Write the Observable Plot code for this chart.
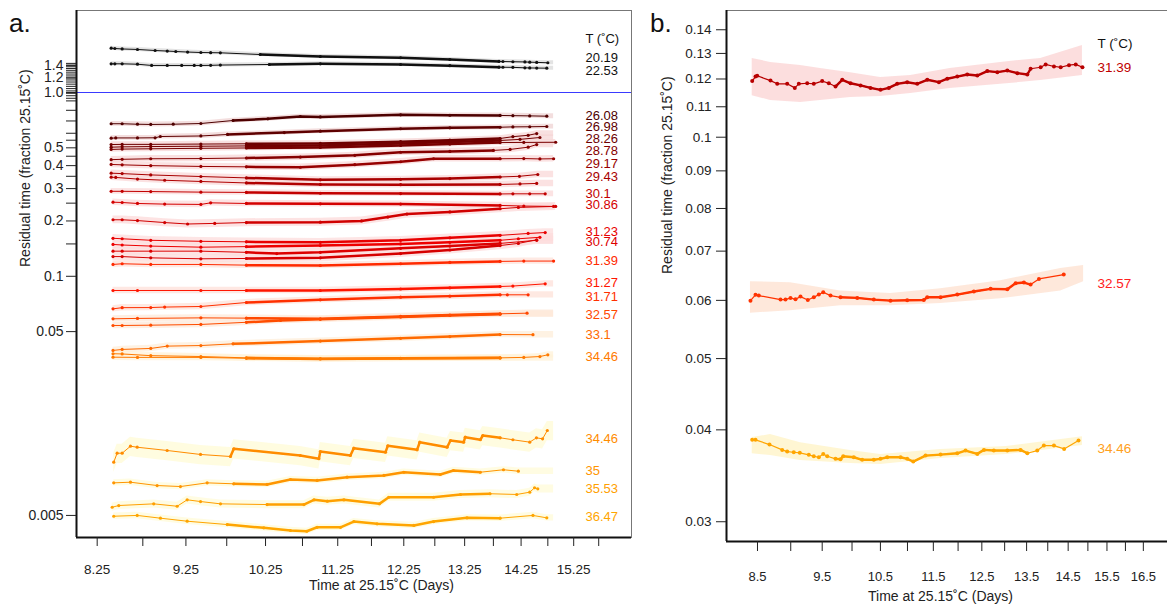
<!DOCTYPE html>
<html><head><meta charset="utf-8">
<script src="https://cdn.jsdelivr.net/npm/d3@7"></script>
<script src="https://cdn.jsdelivr.net/npm/@observablehq/plot@0.6"></script>
<style>
body{margin:0;background:#fff;font-family:"Liberation Sans",Arial,Helvetica,sans-serif;}
#wrap{position:relative;width:1167px;height:609px;display:flex;overflow:hidden;}
.tag{position:absolute;font-size:26px;line-height:26px;color:#111;z-index:2;}
svg{display:block;}
</style></head><body>
<div id="wrap"><div class="tag" style="left:9px;top:10px">a.</div><div class="tag" style="left:650px;top:10px">b.</div></div>
<script>
// ---------- Panel a : series (day, residual time fraction) ----------
const a01 = [[8.40,1.742],[8.44,1.735],[8.52,1.725],[8.69,1.714],[8.89,1.692],[9.03,1.68],[9.13,1.671],[9.27,1.66],[9.43,1.650],[9.55,1.647],[9.67,1.644],[10.18,1.609],[11.0,1.570],[12.2,1.545],[13.0,1.512],[13.85,1.475],[13.92,1.474],[14.1,1.47],[14.32,1.466],[14.41,1.462],[14.54,1.458],[14.75,1.451]];
const a02 = [[8.40,1.432],[8.44,1.432],[8.52,1.432],[8.69,1.425],[8.85,1.403],[9.03,1.403],[9.2,1.403],[9.35,1.403],[9.43,1.403],[9.55,1.405],[9.67,1.41],[10.3,1.42],[11.0,1.432],[12.2,1.42],[13.0,1.40],[13.85,1.373],[13.92,1.372],[14.1,1.37],[14.32,1.362],[14.41,1.360],[14.54,1.358],[14.73,1.356]];
const a03 = [[8.40,0.676],[8.52,0.676],[8.69,0.672],[8.84,0.670],[9.1,0.672],[9.43,0.678],[9.83,0.704],[10.28,0.719],[10.72,0.740],[11.0,0.736],[12.2,0.756],[13.0,0.752],[13.87,0.750],[14.1,0.748],[14.41,0.746],[14.73,0.743]];
const a04 = [[8.40,0.564],[8.45,0.566],[8.69,0.566],[8.89,0.567],[8.95,0.576],[9.43,0.580],[9.76,0.591],[10.5,0.605],[11.0,0.616],[12.2,0.635],[13.0,0.642],[13.87,0.647],[14.1,0.650],[14.41,0.651],[14.73,0.653]];
const a05 = [[8.40,0.521],[8.52,0.522],[8.84,0.522],[9.43,0.524],[10.0,0.526],[11.0,0.528],[12.2,0.540],[13.0,0.550],[13.87,0.562],[14.1,0.575],[14.38,0.585],[14.54,0.598]];
const a06 = [[8.40,0.504],[8.52,0.506],[8.84,0.508],[9.43,0.510],[10.0,0.512],[11.0,0.515],[12.2,0.528],[13.0,0.538],[13.87,0.548],[14.23,0.556],[14.6,0.569]];
const a07 = [[8.40,0.490],[8.52,0.492],[8.84,0.494],[9.43,0.497],[10.0,0.499],[11.0,0.502],[12.2,0.515],[13.0,0.524],[13.87,0.534],[14.3,0.535],[14.9,0.536]];
const a08 = [[8.40,0.431],[8.52,0.433],[8.84,0.436],[9.43,0.437],[10.0,0.440],[10.72,0.445],[11.5,0.455],[12.2,0.473],[13.0,0.478],[13.75,0.484],[14.05,0.490],[14.38,0.504],[14.54,0.521]];
const a09 = [[8.40,0.406],[8.52,0.404],[8.84,0.400],[9.43,0.396],[10.0,0.394],[10.72,0.392],[11.5,0.405],[12.2,0.420],[12.73,0.436],[13.87,0.436],[14.3,0.437],[14.6,0.435],[14.86,0.436]];
const a10 = [[8.40,0.364],[8.52,0.362],[8.84,0.356],[9.43,0.349],[10.0,0.343],[11.0,0.335],[12.2,0.337],[13.0,0.340],[13.87,0.347],[14.22,0.350],[14.56,0.358]];
const a11 = [[8.40,0.346],[8.45,0.345],[8.69,0.338],[9.0,0.333],[9.43,0.328],[10.0,0.322],[11.0,0.316],[12.2,0.315],[13.87,0.316],[14.23,0.318],[14.54,0.320]];
const a12 = [[8.40,0.290],[8.52,0.290],[8.84,0.289],[9.43,0.287],[10.0,0.286],[11.0,0.283],[12.2,0.282],[13.87,0.2805],[14.10,0.281],[14.41,0.281],[14.70,0.281]];
const a13 = [[8.42,0.253],[8.52,0.252],[8.69,0.249],[9.0,0.247],[9.43,0.246],[9.55,0.251],[10.0,0.249],[11.0,0.248],[12.2,0.247],[13.87,0.243],[14.3,0.241],[14.86,0.240]];
const a14 = [[8.42,0.203],[8.52,0.203],[8.69,0.201],[9.0,0.196],[9.27,0.1925],[9.6,0.194],[10.0,0.196],[11.0,0.197],[11.6,0.200],[12.0,0.210],[12.3,0.218],[13.0,0.224],[13.87,0.233],[14.2,0.237],[14.9,0.240]];
const a15 = [[8.42,0.161],[8.52,0.160],[8.84,0.157],[9.43,0.155],[10.0,0.154],[11.0,0.153],[12.2,0.157],[13.0,0.162],[13.87,0.167],[14.38,0.171],[14.7,0.173]];
const a16 = [[8.42,0.149],[8.52,0.148],[8.84,0.146],[9.43,0.144],[10.0,0.145],[11.0,0.147],[12.2,0.150],[13.0,0.153],[13.87,0.157],[14.2,0.160],[14.6,0.163]];
const a17 = [[8.42,0.137],[8.52,0.137],[8.84,0.137],[9.43,0.137],[10.0,0.135],[10.4,0.133],[11.0,0.135],[12.2,0.142],[13.0,0.146],[13.87,0.151],[14.54,0.157]];
const a18 = [[8.42,0.128],[8.52,0.128],[8.84,0.126],[9.43,0.1245],[10.0,0.125],[11.0,0.126],[12.2,0.133],[13.0,0.139],[13.87,0.147],[14.2,0.151],[14.54,0.158]];
const a19 = [[8.42,0.116],[8.52,0.117],[8.84,0.116],[9.43,0.116],[10.0,0.115],[11.0,0.1145],[12.2,0.117],[13.0,0.119],[13.87,0.1205],[14.3,0.121],[14.86,0.121]];
const a20 = [[8.42,0.0837],[8.69,0.0837],[9.43,0.0837],[10.0,0.0837],[11.0,0.0837],[12.2,0.0853],[13.0,0.0866],[13.87,0.0880],[14.1,0.0885],[14.7,0.0910]];
const a21 = [[8.42,0.0665],[8.52,0.0675],[8.84,0.0676],[9.0,0.068],[9.43,0.0685],[10.0,0.072],[11.0,0.0745],[12.2,0.077],[13.0,0.078],[13.87,0.0793],[14.0,0.0793],[14.38,0.0793]];
const a22 = [[8.42,0.0587],[8.69,0.0590],[9.43,0.0594],[10.0,0.0592],[11.0,0.0587],[12.2,0.0605],[13.0,0.0615],[13.87,0.0625],[14.36,0.0630]];
const a23 = [[8.42,0.054],[8.52,0.054],[8.84,0.0542],[9.43,0.0547],[10.0,0.0562],[10.45,0.0575],[11.0,0.0583],[12.2,0.0600],[13.0,0.0612],[13.87,0.0622]];
const a24 = [[8.42,0.0395],[8.52,0.040],[8.84,0.0405],[9.03,0.0417],[9.43,0.042],[9.83,0.0429],[11.0,0.0444],[12.2,0.046],[13.0,0.047],[13.87,0.0482],[14.47,0.0481]];
const a25 = [[8.42,0.0379],[8.52,0.0378],[8.84,0.037],[9.43,0.0366],[10.0,0.036],[11.0,0.0356],[12.2,0.0358],[13.87,0.0360],[14.3,0.0362],[14.6,0.0366],[14.75,0.0374]];
const a26 = [[8.42,0.0363],[8.69,0.0362],[9.43,0.0362],[10.0,0.0358],[11.0,0.0355],[12.2,0.0357],[13.87,0.0359]];
const a27 = [[8.428,0.00974],[8.465,0.0109],[8.52,0.0109],[8.612,0.0119],[8.687,0.01175],[9.029,0.01128],[9.426,0.01073],[9.797,0.01046],[9.839,0.01152],[10.72,0.01059],[10.98,0.01017],[11.0,0.01114],[11.435,0.01059],[11.485,0.01161],[11.965,0.01104],[12.0,0.01196],[12.462,0.01138],[12.505,0.01252],[12.954,0.01175],[13.01,0.01278],[13.233,0.01252],[13.26,0.01332],[13.52,0.0129],[13.564,0.01361],[13.87,0.01322],[14.10,0.0129],[14.41,0.01252],[14.535,0.01322],[14.65,0.01305],[14.74,0.01449]];
const a28 = [[8.428,0.00752],[8.612,0.00758],[8.913,0.00727],[9.185,0.00718],[9.507,0.00752],[9.839,0.00743],[10.27,0.00737],[10.585,0.00784],[10.955,0.00775],[11.387,0.00807],[11.94,0.00825],[12.25,0.00859],[12.84,0.00835],[13.06,0.00878],[13.52,0.00859],[13.93,0.00886],[14.20,0.0087]];
const a29 = [[8.411,0.00554],[8.483,0.00566],[8.874,0.00578],[9.146,0.00561],[9.265,0.00608],[9.426,0.00595],[9.672,0.00578],[10.27,0.00573],[10.77,0.00573],[10.91,0.00608],[11.10,0.00598],[11.34,0.00608],[11.87,0.00578],[12.015,0.00628],[12.73,0.00628],[13.18,0.0065],[13.69,0.00656],[14.17,0.0065],[14.41,0.00669],[14.50,0.00707],[14.56,0.00698]];
const a30 = [[8.428,0.00495],[8.687,0.005],[8.951,0.00483],[9.265,0.00465],[9.756,0.00446],[10.227,0.00428],[10.585,0.00414],[10.81,0.0041],[10.955,0.00431],[11.29,0.00431],[11.485,0.00463],[11.836,0.0045],[12.41,0.00441],[12.73,0.00463],[13.29,0.00485],[13.87,0.00483],[14.47,0.005],[14.73,0.00485]];

const ptsA = [a01,a02,a03,a04,a05,a06,a07,a08,a09,a10,a11,a12,a13,a14,a15,a16,a17,a18,a19,a20,a21,a22,a23,a24,a25,a26,a27,a28,a29,a30];
const tempsA = ["20.19","22.53","26.08","26.98","28.26","28.26","28.26","28.78","29.17","29.43","29.43","30.1","30.86","30.86","31.23","31.23","30.74","30.74","31.39","31.27","31.71","32.57","32.57","33.1","34.46","34.46","34.46","35","35.53","36.47"];
const colorsA = ["#111111","#111111","#4d0000","#5e0000","#6e0000","#730000","#780000","#850000","#960000","#a80000","#b00000","#c20000","#d40000","#d00000","#e80000","#ee0000","#dd0000","#d50000","#ff2a00","#ff1500","#ff3000","#ff4800","#ff4d00","#ff6a00","#ff7a00","#ff7a00","#ff8c00","#ff9500","#ffa000","#ffa500"];
const bandColorsA = ["#d9d9d9","#d9d9d9","#efd3d3","#efd3d3","#f5d5d5","#f5d5d5","#f5d5d5","#f7d6d6","#f9d8d8","#fad8d8","#fad8d8","#fbd9d9","#fcdada","#fcdada","#fcdcdc","#fcdcdc","#fcdcdc","#fcdcdc","#fde2da","#fde0da","#fde2d8","#fde8d8","#fde8d8","#feeeda","#fff2d8","#fff2d8","#fffbd6","#fffbd8","#fffbd8","#fffbd8"];
const bandWA = [0.025,0.025,0.03,0.03,0.035,0.035,0.035,0.04,0.04,0.04,0.04,0.035,0.04,0.05,0.05,0.05,0.05,0.05,0.04,0.04,0.04,0.04,0.04,0.04,0.04,0.04,0.12,0.04,0.05,0.04];
const bandEndA = 14.86;
const denseA = [9.7, 13.87];

const labelTextA = ["T (˚C)","20.19","22.53","26.08","26.98","28.26","28.78","29.17","29.43","30.1","30.86","31.23","30.74","31.39","31.27","31.71","32.57","33.1","34.46","34.46","35","35.53","36.47"];
const labelValA = [1.967,1.545,1.317,0.750,0.647,0.560,0.484,0.409,0.346,0.281,0.246,0.1753,0.1532,0.1219,0.0917,0.0777,0.0617,0.0482,0.0366,0.01305,0.00878,0.00698,0.00493];
const labelColorA = ["#111111","#111111","#111111","#4d0000","#5e0000","#6e0000","#850000","#960000","#a80000","#c20000","#d40000","#e80000","#dd0000","#ff2a00","#ff1500","#ff3000","#ff4800","#ff6a00","#ff7a00","#ff8c00","#ff9500","#ffa000","#ffa500"];

const yTicksA = [0.005,0.05,0.1,0.2,0.3,0.4,0.5,0.6,0.8,1.0,1.2,1.4];
const yTickLabelsA = ["0.005","0.05","0.1","0.2","0.3","0.4","0.5","0.6","0.8","1.0","1.2","1.4"];
const yMinorA = [0.15,0.25,0.35,0.45,0.55,0.7,0.90,0.93,0.96,0.99,1.02,1.05,1.08,1.11,1.14,1.17,1.20,1.23,1.26,1.29,1.32,1.35,1.38,1.41,1.44];
const xTicksA = [8.25,8.75,9.25,9.75,10.25,10.75,11.25,11.75,12.25,12.75,13.25,13.75,14.25,14.75,15.25,15.75];
const xTickLabelsA = ["8.25","","9.25","","10.25","","11.25","","12.25","","13.25","","14.25","","15.25",""];
const xDomA = [8.033, 16.43], yDomA = [0.003792, 2.793];

// ---------- Panel b ----------
const b1 = [[8.423,0.1192],[8.471,0.1209],[8.496,0.1212],[8.692,0.1194],[8.793,0.1182],[8.945,0.1182],[9.063,0.1167],[9.126,0.1182],[9.258,0.1184],[9.364,0.1182],[9.500,0.1192],[9.609,0.1184],[9.720,0.1172],[9.833,0.1197],[9.974,0.1184],[10.147,0.1176],[10.323,0.1167],[10.502,0.1160],[10.653,0.1167],[10.807,0.1182],[10.995,0.1188],[11.186,0.1182],[11.380,0.1197],[11.610,0.1188],[11.779,0.1201],[11.983,0.1209],[12.191,0.1217],[12.403,0.1213],[12.618,0.1230],[12.837,0.1226],[13.06,0.1232],[13.286,0.1222],[13.517,0.1217],[13.594,0.1239],[13.83,0.1245],[13.95,0.1256],[14.15,0.1248],[14.315,0.1245],[14.52,0.1253],[14.69,0.1256],[14.86,0.1245]];
const b2 = [[8.398,0.05995],[8.471,0.06104],[8.519,0.0609],[8.843,0.06014],[8.919,0.06014],[8.996,0.06046],[9.074,0.0602],[9.152,0.06071],[9.268,0.06008],[9.364,0.06058],[9.445,0.06109],[9.517,0.06154],[9.637,0.0609],[9.804,0.06058],[10.09,0.06046],[10.382,0.06014],[10.684,0.05995],[10.995,0.06001],[11.314,0.06008],[11.38,0.06058],[11.644,0.06058],[11.983,0.06109],[12.33,0.06168],[12.69,0.0622],[13.06,0.06212],[13.247,0.06331],[13.438,0.06344],[13.594,0.06305],[13.79,0.06417],[14.39,0.06505]];
const b3 = [[8.423,0.03877],[8.471,0.03877],[8.677,0.0382],[8.869,0.03757],[8.945,0.03737],[9.047,0.03729],[9.141,0.03722],[9.284,0.03699],[9.364,0.03683],[9.445,0.03671],[9.517,0.0371],[9.583,0.03683],[9.72,0.03653],[9.804,0.03648],[9.85,0.03683],[10.03,0.03671],[10.176,0.03642],[10.382,0.03642],[10.502,0.03653],[10.624,0.03671],[10.87,0.03671],[10.995,0.03653],[11.11,0.03622],[11.347,0.0369],[11.644,0.03702],[11.983,0.03717],[12.155,0.03749],[12.403,0.0371],[12.545,0.03757],[12.76,0.03749],[13.06,0.03749],[13.36,0.03757],[13.517,0.03717],[13.75,0.03749],[13.907,0.03808],[14.15,0.03808],[14.40,0.03768],[14.76,0.03868]];
const bb1 = [[8.423,0.1139,0.1280],[8.692,0.1122,0.1264],[9.152,0.1115,0.1252],[9.472,0.1122,0.1240],[9.974,0.1132,0.1224],[10.502,0.1136,0.1206],[11.06,0.1147,0.1213],[11.836,0.1165,0.1240],[12.91,0.1180,0.1264],[13.83,0.1194,0.1280],[14.86,0.1213,0.1333]];
const bb2 = [[8.398,0.05763,0.0636],[8.996,0.0581,0.0634],[9.804,0.0590,0.0618],[10.684,0.0590,0.0613],[11.644,0.0594,0.0622],[12.91,0.0603,0.0638],[14.315,0.0618,0.0663],[14.89,0.0636,0.0669]];
const bb3 = [[8.423,0.03713,0.03904],[8.692,0.0369,0.03941],[9.152,0.03633,0.03843],[9.974,0.03599,0.03749],[10.502,0.03588,0.03702],[11.644,0.03657,0.03761],[13.04,0.03702,0.03797],[14.86,0.03808,0.03916]];
const ptsB = [b1,b2,b3];
const bandsB = [bb1,bb2,bb3];
const tempsB = ["31.39","32.57","34.46"];
const colorsB = ["#b80000","#ff3300","#ffa500"];
const bandColorsB = ["#fbd3d3","#fde0cf","#fff3c4"];
const labelTextB = ["T (˚C)","31.39","32.57","34.46"];
const labelValB = [0.1340,0.1245,0.0633,0.03776];
const labelColorB = ["#111111","#c00000","#ff2020","#ffa020"];
const denseB = [9.7, 13.6];
const yTicksB = [0.03,0.04,0.05,0.06,0.07,0.08,0.09,0.1,0.11,0.12,0.13,0.14];
const yTickLabelsB = ["0.03","0.04","0.05","0.06","0.07","0.08","0.09","0.1","0.11","0.12","0.13","0.14"];
const xTicksB = [8.5,9,9.5,10,10.5,11,11.5,12,12.5,13,13.5,14,14.5,15,15.5,16,16.5];
const xTickLabelsB = ["8.5","","9.5","","10.5","","11.5","","12.5","","13.5","","14.5","","15.5","","16.5"];
const xDomB = [8.059, 17.20], yDomB = [0.02820, 0.1487];

const yTitle = "Residual time (fraction 25.15˚C)";
const xTitle = "Time at 25.15˚C (Days)";

// ---------- build ----------
const font = '"Liberation Sans", Arial, Helvetica, sans-serif';
const style = {fontFamily: font, fontSize: "14px", color: "#222", background: "transparent", overflow: "visible"};

const rowsA = [];
ptsA.forEach((pts, k) => pts.forEach(([d, v]) => rowsA.push({d, v, k, c: colorsA[k]})));
const bandRowsA = [];
ptsA.forEach((pts, k) => {
  const w = bandWA[k];
  const ext = pts.slice();
  const last = pts[pts.length - 1];
  if (last[0] < bandEndA) ext.push([bandEndA, last[1]]);
  ext.forEach(([d, v]) => bandRowsA.push({d, lo: v * (1 - w), hi: v * (1 + w), k, c: bandColorsA[k]}));
});
const idxA = labelTextA.map((_, i) => i);
const xLabA = xTicksA.filter((d, i) => xTickLabelsA[i] !== "");

const plotA = Plot.plot({
  width: 640, height: 609, marginLeft: 76, marginRight: 9, marginTop: 10, marginBottom: 72,
  x: {type: "log", domain: xDomA, label: null},
  y: {type: "log", domain: yDomA, label: null},
  color: {type: "identity"},
  style,
  marks: [
    Plot.areaY(bandRowsA, {x: "d", y1: "lo", y2: "hi", z: "k", fill: "c", fillOpacity: 0.75}),
    Plot.frame({stroke: "#777"}),
    Plot.ruleY([1], {stroke: "#3a3aff", strokeWidth: 1.2}),
    Plot.line(rowsA, {x: "d", y: "v", z: "k", stroke: "c", strokeWidth: 1}),
    Plot.line(rowsA.filter(r => r.d >= denseA[0] && r.d <= denseA[1]), {x: "d", y: "v", z: "k", stroke: "c", strokeWidth: 2.5}),
    Plot.dot(rowsA, {x: "d", y: "v", fill: "c", r: 1.6}),
    Plot.ruleX([xDomA[0]], {stroke: "#111", strokeWidth: 2}),
    Plot.ruleY([yDomA[0]], {stroke: "#111", strokeWidth: 2}),
    Plot.text(idxA, {y: i => labelValA[i], text: i => labelTextA[i], fill: i => labelColorA[i], frameAnchor: "right", dx: -46, textAnchor: "start", fontSize: 13}),
    Plot.axisY(yTicksA, {tickSize: 10, tickPadding: 3, label: null, fontSize: 14, tickFormat: d => yTickLabelsA[yTicksA.indexOf(d)]}),
    Plot.axisY(yMinorA, {tickSize: 10, label: null, tickFormat: () => ""}),
    Plot.axisX(xTicksA, {tickSize: 9, label: null, tickFormat: () => ""}),
    Plot.text(xLabA, {x: d => d, text: d => xTickLabelsA[xTicksA.indexOf(d)], frameAnchor: "bottom", lineAnchor: "top", dy: 27, fontSize: 13.5, fill: "#222"}),
    Plot.text([yTitle], {text: d => d, frameAnchor: "left", rotate: -90, dx: -50.5, dy: -7, fontSize: 14, fill: "#222"}),
    Plot.text([xTitle], {text: d => d, frameAnchor: "bottom", dx: 27.5, dy: 52, fontSize: 14, fill: "#222"})
  ]
});

const rowsB = [];
ptsB.forEach((pts, k) => pts.forEach(([d, v]) => rowsB.push({d, v, k, c: colorsB[k]})));
const bandRowsB = [];
bandsB.forEach((b, k) => b.forEach(([d, lo, hi]) => bandRowsB.push({d, lo, hi, k, c: bandColorsB[k]})));
const idxB = labelTextB.map((_, i) => i);
const xLabB = xTicksB.filter((d, i) => xTickLabelsB[i] !== "");

const plotB = Plot.plot({
  width: 527, height: 609, marginLeft: 86, marginRight: 0, marginTop: 10, marginBottom: 68,
  x: {type: "log", domain: xDomB, label: null},
  y: {type: "log", domain: yDomB, label: null},
  color: {type: "identity"},
  style,
  marks: [
    Plot.areaY(bandRowsB, {x: "d", y1: "lo", y2: "hi", z: "k", fill: "c", fillOpacity: 0.75}),
    Plot.ruleY([yDomB[1]], {stroke: "#777", strokeWidth: 1}),
    Plot.line(rowsB, {x: "d", y: "v", z: "k", stroke: "c", strokeWidth: 1.2}),
    Plot.line(rowsB.filter(r => r.d >= denseB[0] && r.d <= denseB[1]), {x: "d", y: "v", z: "k", stroke: "c", strokeWidth: 2.4}),
    Plot.dot(rowsB, {x: "d", y: "v", fill: "c", r: 2}),
    Plot.ruleX([xDomB[0]], {stroke: "#111", strokeWidth: 2}),
    Plot.ruleY([yDomB[0]], {stroke: "#111", strokeWidth: 2}),
    Plot.text(idxB, {y: i => labelValB[i], text: i => labelTextB[i], fill: i => labelColorB[i], frameAnchor: "right", dx: -70, textAnchor: "start", fontSize: 13.5}),
    Plot.axisY(yTicksB, {tickSize: 10, tickPadding: 5, label: null, fontSize: 13.5, tickFormat: d => yTickLabelsB[yTicksB.indexOf(d)]}),
    Plot.axisX(xTicksB, {tickSize: 10, label: null, tickFormat: () => ""}),
    Plot.text(xLabB, {x: d => d, text: d => xTickLabelsB[xTicksB.indexOf(d)], frameAnchor: "bottom", lineAnchor: "top", dy: 30, fontSize: 13, fill: "#222"}),
    Plot.text([yTitle], {text: d => d, frameAnchor: "left", rotate: -90, dx: -58.5, dy: -2, fontSize: 14, fill: "#222"}),
    Plot.text([xTitle], {text: d => d, frameAnchor: "bottom", dx: -6.5, dy: 59, fontSize: 14, fill: "#222"})
  ]
});

const wrap = document.getElementById("wrap");
wrap.appendChild(plotA);
wrap.appendChild(plotB);
</script>
</body></html>
